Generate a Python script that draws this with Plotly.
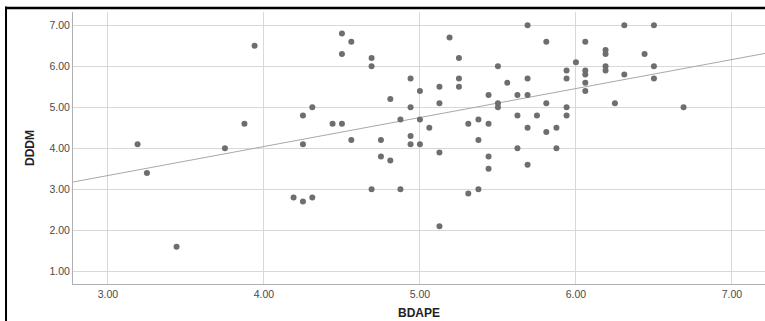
import numpy as np
import plotly.graph_objects as go

# BDAPE (x) and DDDM (y) values
bdape = [3.19, 3.25, 3.44, 3.75, 3.875, 3.94, 4.5, 4.56, 4.5, 4.69, 4.69, 4.25, 4.31, 4.44, 4.5,
         4.25, 4.56, 4.75, 4.75, 4.81, 4.81, 4.875, 4.94, 4.94, 5.0, 5.0, 4.94, 4.94, 5.0, 5.06,
         4.69, 4.875, 4.19, 4.25, 4.31, 5.125, 5.125, 5.125, 5.125, 5.19, 5.25, 5.25, 5.25, 5.31,
         5.31, 5.375, 5.375, 5.375, 5.44, 5.44, 5.44, 5.44, 5.5, 5.5, 5.5, 5.56, 5.69, 5.81, 5.625,
         5.69, 5.69, 5.81, 5.625, 5.75, 5.69, 5.81, 5.875, 5.625, 5.875, 5.69, 5.94, 5.94, 5.94,
         5.94, 6.0, 6.06, 6.06, 6.06, 6.06, 6.06, 6.19, 6.19, 6.19, 6.19, 6.31, 6.31, 6.25, 6.44,
         6.5, 6.5, 6.5, 6.69]
dddm = [4.1, 3.4, 1.6, 4.0, 4.6, 6.5, 6.8, 6.6, 6.3, 6.2, 6.0, 4.8, 5.0, 4.6, 4.6,
        4.1, 4.2, 4.2, 3.8, 3.7, 5.2, 4.7, 5.7, 5.0, 5.4, 4.7, 4.3, 4.1, 4.1, 4.5,
        3.0, 3.0, 2.8, 2.7, 2.8, 5.5, 5.1, 3.9, 2.1, 6.7, 6.2, 5.7, 5.5, 4.6,
        2.9, 4.7, 4.2, 3.0, 5.3, 4.6, 3.8, 3.5, 6.0, 5.1, 5.0, 5.6, 7.0, 6.6, 5.3,
        5.3, 5.7, 5.1, 4.8, 4.8, 4.5, 4.4, 4.5, 4.0, 4.0, 3.6, 5.9, 5.7, 5.0,
        4.8, 6.1, 6.6, 5.9, 5.8, 5.6, 5.4, 6.4, 6.3, 6.0, 5.9, 7.0, 5.8, 5.1, 6.3,
        7.0, 6.0, 5.7, 5.0]

x_ticks = [3, 4, 5, 6, 7]
y_ticks = [1, 2, 3, 4, 5, 6, 7]
x_range = [2.776, 7.212]
y_range = [0.691, 7.324]

# linear fit line (computed from the data)
slope, intercept = np.polyfit(bdape, dddm, 1)
fit_x = np.array(x_range)
fit_y = intercept + slope * fit_x

fig = go.Figure()
fig.add_trace(go.Scatter(x=fit_x, y=fit_y, mode="lines",
                         line=dict(color="#a8a8a8", width=1), hoverinfo="skip", showlegend=False))
fig.add_trace(go.Scatter(x=bdape, y=dddm, mode="markers",
                         marker=dict(color="#6e6e6e", size=6, line=dict(width=0)),
                         showlegend=False))

tickfont = dict(family="Liberation Sans, Arial, sans-serif", size=10.5, color="#4a4a4a")
titlefont = dict(family="Liberation Sans, Arial, sans-serif", size=12, color="#222222")

fig.update_layout(
    width=765, height=321,
    margin=dict(l=73, r=0, t=12, b=37),
    paper_bgcolor="white", plot_bgcolor="white",
    xaxis=dict(range=x_range, tickvals=x_ticks, tickformat=".2f", showgrid=True,
               gridcolor="#d8d8d8", gridwidth=1, zeroline=False, showline=True,
               linecolor="#b0b0b0", linewidth=1, ticks="", ticklen=0, tickfont=tickfont,
               title=dict(text="<b>BDAPE</b>", font=titlefont, standoff=10)),
    yaxis=dict(range=y_range, tickvals=y_ticks, tickformat=".2f", showgrid=True,
               gridcolor="#d8d8d8", gridwidth=1, zeroline=False, showline=True,
               linecolor="#b0b0b0", linewidth=1, ticks="", ticklen=0, tickfont=tickfont,
               title=dict(text="<b>DDDM</b>", font=titlefont, standoff=12)),
    shapes=[
        dict(type="line", xref="paper", yref="paper", x0=-0.0975, x1=1.01, y0=1.015, y1=1.015,
             line=dict(color="black", width=2.5)),
        dict(type="line", xref="paper", yref="paper", x0=-0.0968, x1=-0.0968, y0=1.02, y1=-0.2,
             line=dict(color="black", width=2)),
    ],
)

fig.write_html("out.html", config={"displayModeBar": False},
               post_script="document.body.style.margin='0';document.body.style.overflow='hidden';")
